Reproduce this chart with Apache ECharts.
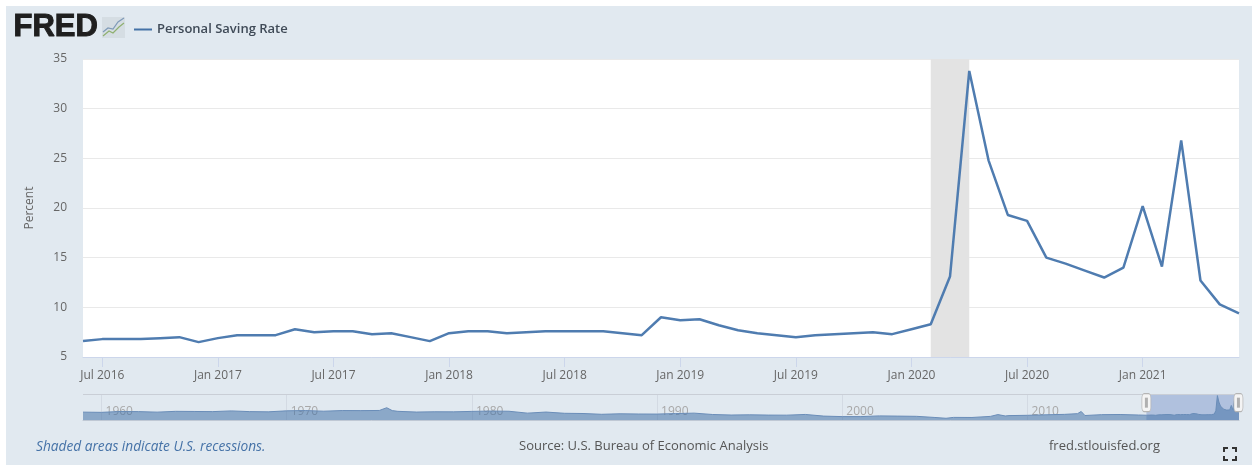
<!DOCTYPE html>
<html lang="en">
<head>
    <meta charset="utf-8">
    <title>Personal Saving Rate</title>
    <script src="https://cdn.jsdelivr.net/npm/echarts@6/dist/echarts.min.js"></script>
    <style>
        html, body { margin: 0; height: 100%; background: #fff; overflow: hidden; }
        #chart { width: 1252px; height: 465px; }
    </style>
</head>
<body>
    <div id="chart"></div>
    <script>
        var months = [
            'Jun 2016', 'Jul 2016', 'Aug 2016', 'Sep 2016', 'Oct 2016', 'Nov 2016', 'Dec 2016',
            'Jan 2017', 'Feb 2017', 'Mar 2017', 'Apr 2017', 'May 2017', 'Jun 2017', 'Jul 2017', 'Aug 2017', 'Sep 2017', 'Oct 2017', 'Nov 2017', 'Dec 2017',
            'Jan 2018', 'Feb 2018', 'Mar 2018', 'Apr 2018', 'May 2018', 'Jun 2018', 'Jul 2018', 'Aug 2018', 'Sep 2018', 'Oct 2018', 'Nov 2018', 'Dec 2018',
            'Jan 2019', 'Feb 2019', 'Mar 2019', 'Apr 2019', 'May 2019', 'Jun 2019', 'Jul 2019', 'Aug 2019', 'Sep 2019', 'Oct 2019', 'Nov 2019', 'Dec 2019',
            'Jan 2020', 'Feb 2020', 'Mar 2020', 'Apr 2020', 'May 2020', 'Jun 2020', 'Jul 2020', 'Aug 2020', 'Sep 2020', 'Oct 2020', 'Nov 2020', 'Dec 2020',
            'Jan 2021', 'Feb 2021', 'Mar 2021', 'Apr 2021', 'May 2021', 'Jun 2021'
        ];
        var savingRate = [
            6.6, 6.8, 6.8, 6.8, 6.9, 7.0, 6.5,
            6.9, 7.2, 7.2, 7.2, 7.8, 7.5, 7.6, 7.6, 7.3, 7.4, 7.0, 6.6,
            7.4, 7.6, 7.6, 7.4, 7.5, 7.6, 7.6, 7.6, 7.6, 7.4, 7.2, 9.0,
            8.7, 8.8, 8.2, 7.7, 7.4, 7.2, 7.0, 7.2, 7.3, 7.4, 7.5, 7.3,
            7.8, 8.3, 13.1, 33.8, 24.8, 19.3, 18.7, 15.0, 14.4, 13.7, 13.0, 14.0,
            20.2, 14.1, 26.8, 12.7, 10.3, 9.4
        ];
        var yTicks = [5, 10, 15, 20, 25, 30, 35];

        // navigator history, before the monthly window starts
        var historyYears = [
            1959, 1960, 1961, 1962, 1963, 1964, 1965, 1966, 1967, 1968, 1969,
            1970, 1971, 1972, 1973, 1974, 1975, 1975.4, 1975.7, 1976, 1977, 1978, 1979,
            1980, 1981, 1982, 1983, 1984, 1985, 1986, 1987, 1988, 1989,
            1990, 1991, 1992, 1993, 1994, 1995, 1996, 1997, 1998, 1999,
            2000, 2001, 2002, 2003, 2004, 2005, 2005.6, 2006, 2007, 2008, 2008.4, 2008.8, 2009,
            2010, 2011, 2012, 2012.7, 2012.9, 2013.1, 2014, 2015, 2016
        ];
        var historyRate = [
            10.9, 10.6, 11.8, 11.6, 10.9, 12.0, 11.8, 11.6, 12.6, 11.6, 11.3,
            12.7, 13.1, 12.2, 13.1, 13.0, 13.2, 17.0, 13.0, 12.0, 11.0, 11.4, 11.3,
            11.9, 12.4, 12.1, 9.5, 11.0, 9.3, 9.0, 7.9, 8.6, 8.3,
            8.2, 8.9, 9.5, 7.6, 6.9, 7.2, 6.8, 6.7, 7.7, 5.4,
            4.7, 4.7, 5.7, 5.4, 5.1, 3.5, 2.4, 3.6, 3.5, 5.0, 7.5, 5.6, 6.1,
            6.5, 7.2, 7.8, 8.8, 11.8, 6.2, 7.4, 7.6, 6.9
        ];
        var historyTicks = [1960, 1970, 1980, 1990, 2000, 2010];

        var windowStart = 2016.42;
        var windowEnd = 2021.42;
        var navigatorData = historyYears.map(function(y, i) {
            return [y, historyRate[i]];
        }).concat(savingRate.map(function(v, i) {
            return [windowStart + i / 12, v];
        }));

        var fontName = '"Open Sans", sans-serif';

        function cornerMark(points) {
            return {
                type: 'polyline',
                shape: { points: points },
                style: { stroke: '#333', lineWidth: 2, fill: null }
            };
        }

        var chart = echarts.init(document.getElementById('chart'), null, { renderer: 'canvas' });

        chart.setOption({
            animation: false,
            backgroundColor: '#fff',
            textStyle: { fontFamily: fontName },
            legend: {
                left: 129,
                top: 18,
                itemWidth: 18,
                itemHeight: 2,
                itemGap: 6,
                data: [{ name: 'Personal Saving Rate', icon: 'rect' }],
                textStyle: { fontFamily: fontName, fontSize: 13, fontWeight: 600, color: '#3f4a57' }
            },
            grid: [
                { left: 83, top: 59, width: 1156, height: 298, show: true, backgroundColor: '#fff', borderWidth: 0 },
                { left: 83, top: 394, width: 1156, height: 26, show: false }
            ],
            xAxis: [
                {
                    type: 'category',
                    gridIndex: 0,
                    data: months,
                    boundaryGap: false,
                    axisLine: { lineStyle: { color: '#ccd6eb' } },
                    axisTick: {
                        length: 10,
                        lineStyle: { color: '#ccd6eb' },
                        interval: function(i, name) { return /^(Jan|Jul)/.test(name); }
                    },
                    axisLabel: {
                        color: '#666',
                        fontSize: 12,
                        margin: 13,
                        interval: function(i, name) { return /^(Jan|Jul)/.test(name); }
                    },
                    splitLine: { show: false }
                },
                {
                    type: 'value',
                    gridIndex: 1,
                    min: 1959,
                    max: 2021.42,
                    axisLine: { onZero: false, lineStyle: { color: '#bfc8d4' } },
                    axisTick: {
                        inside: true,
                        length: 26,
                        customValues: historyTicks,
                        lineStyle: { color: '#d3dae3' }
                    },
                    axisLabel: {
                        inside: true,
                        margin: 2,
                        color: '#a8a8a8',
                        fontSize: 12,
                        align: 'left',
                        padding: [0, 0, 0, 4],
                        customValues: historyTicks,
                        formatter: function(v) { return String(v); }
                    },
                    splitLine: { show: false }
                }
            ],
            yAxis: [
                {
                    type: 'value',
                    gridIndex: 0,
                    min: yTicks[0],
                    max: yTicks[yTicks.length - 1],
                    interval: 5,
                    name: 'Percent',
                    nameLocation: 'middle',
                    nameGap: 47,
                    nameTextStyle: { color: '#666', fontSize: 12 },
                    axisLine: { show: false },
                    axisTick: { show: false },
                    axisLabel: { color: '#666', fontSize: 12, margin: 16 },
                    splitLine: { lineStyle: { color: '#e9e9e9' } }
                },
                {
                    type: 'value',
                    gridIndex: 1,
                    min: 0,
                    max: 36,
                    show: false,
                    splitLine: { show: false }
                }
            ],
            series: [
                {
                    name: 'Personal Saving Rate',
                    type: 'line',
                    xAxisIndex: 0,
                    yAxisIndex: 0,
                    data: savingRate,
                    showSymbol: false,
                    lineStyle: { color: '#4f7cb0', width: 2.5 },
                    itemStyle: { color: '#4572a7' },
                    markArea: {
                        silent: true,
                        itemStyle: { color: '#e3e3e3' },
                        data: [[{ xAxis: 'Feb 2020' }, { xAxis: 'Apr 2020' }]]
                    },
                    z: 3
                },
                {
                    name: 'navigator',
                    type: 'line',
                    xAxisIndex: 1,
                    yAxisIndex: 1,
                    data: navigatorData,
                    showSymbol: false,
                    lineStyle: { color: '#6a8db8', width: 1 },
                    areaStyle: { color: '#4572a7', opacity: 0.55 },
                    markArea: {
                        silent: true,
                        itemStyle: { color: 'rgba(102,133,194,0.4)' },
                        data: [[{ xAxis: windowStart }, { xAxis: windowEnd }]]
                    },
                    markLine: {
                        silent: true,
                        symbol: 'none',
                        label: { show: false },
                        lineStyle: { color: '#c9ced6', width: 1, type: 'solid' },
                        data: [{ yAxis: 36 }]
                    },
                    markPoint: {
                        silent: true,
                        label: { show: false },
                        data: [
                            { coord: [windowStart, 24], symbol: 'roundRect', symbolSize: [9, 18], itemStyle: { color: '#f4f4f4', borderColor: '#b5b5b5', borderWidth: 1 } },
                            { coord: [windowEnd - 0.03, 24], symbol: 'roundRect', symbolSize: [9, 18], itemStyle: { color: '#f4f4f4', borderColor: '#b5b5b5', borderWidth: 1 } },
                            { coord: [windowStart, 24], symbol: 'rect', symbolSize: [3, 10], itemStyle: { color: '#b0b0b0' } },
                            { coord: [windowEnd - 0.03, 24], symbol: 'rect', symbolSize: [3, 10], itemStyle: { color: '#b0b0b0' } }
                        ]
                    }
                }
            ],
            graphic: [
                // panel behind everything
                { type: 'rect', z: -100, silent: true, shape: { x: 6, y: 6, width: 1246, height: 459 }, style: { fill: '#e1e9f0' } },
                // logo
                { type: 'text', left: 13, top: 11, style: { text: 'FRED', font: 'bold 31px "Liberation Sans", sans-serif', fill: '#1f1f1f', stroke: '#1f1f1f', lineWidth: 1 } },
                { type: 'rect', silent: true, shape: { x: 102, y: 17, width: 23, height: 21 }, style: { fill: '#d5dde3' } },
                {
                    type: 'polyline',
                    shape: { points: [[103, 36], [109, 31], [113, 33], [119, 27], [124, 23]] },
                    style: { stroke: '#8fb070', lineWidth: 1.2, fill: null }
                },
                {
                    type: 'polyline',
                    shape: { points: [[103, 32], [108, 28], [113, 29], [118, 22], [124, 18]] },
                    style: { stroke: '#7f9ab8', lineWidth: 1.2, fill: null }
                },
                // footer
                { type: 'text', left: 36, top: 440, style: { text: 'Shaded areas indicate U.S. recessions.', font: 'italic 13.7px ' + fontName, fill: '#4572a7' } },
                { type: 'text', left: 519, top: 440, style: { text: 'Source: U.S. Bureau of Economic Analysis', font: '13px ' + fontName, fill: '#555' } },
                { type: 'text', left: 1049, top: 440, style: { text: 'fred.stlouisfed.org', font: '13px ' + fontName, fill: '#555' } },
                // fullscreen icon
                cornerMark([[1224, 452], [1224, 448], [1228, 448]]),
                cornerMark([[1232, 448], [1236, 448], [1236, 452]]),
                cornerMark([[1224, 456], [1224, 460], [1228, 460]]),
                cornerMark([[1232, 460], [1236, 460], [1236, 456]])
            ]
        });
    </script>
</body>
</html>
